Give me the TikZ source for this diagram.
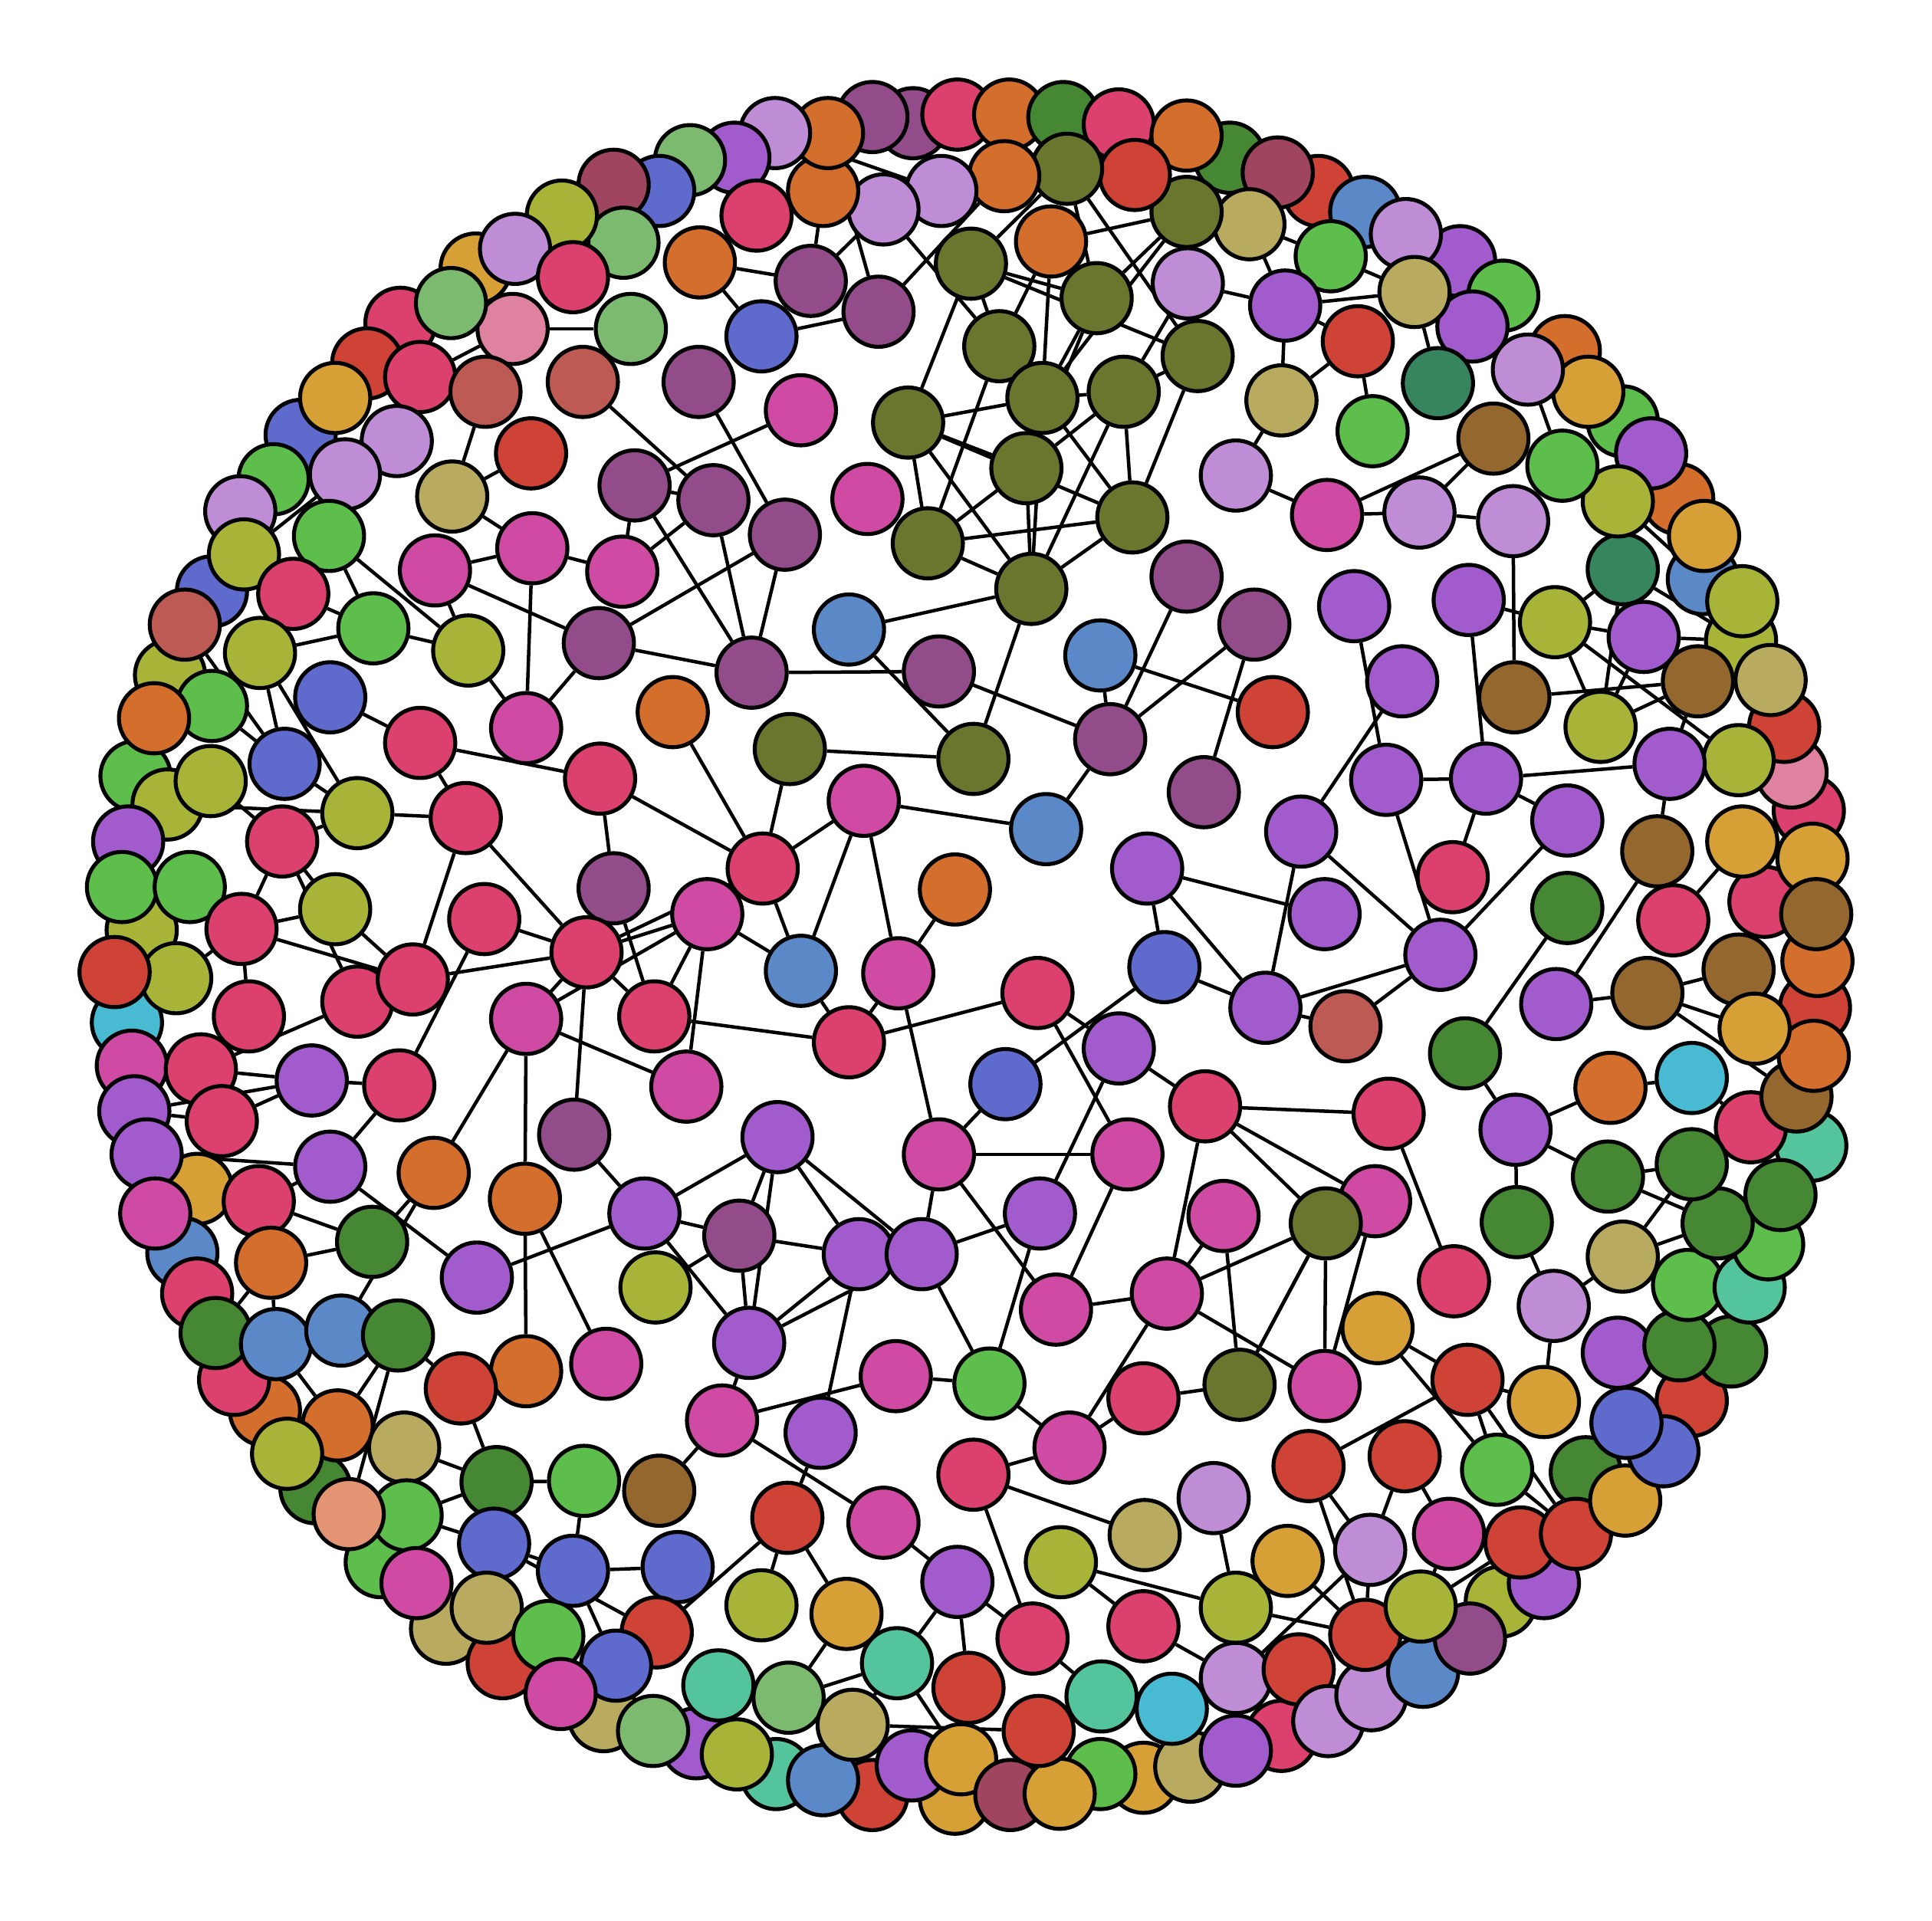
\documentclass[tikz,border=0pt]{standalone}
\usetikzlibrary{backgrounds}
\definecolor{kol}{HTML}{6A752E}
\definecolor{kvi}{HTML}{A25BCC}
\definecolor{kmg}{HTML}{CF4BA3}
\definecolor{kcr}{HTML}{DC416E}
\definecolor{kor}{HTML}{D46E2C}
\definecolor{krd}{HTML}{CE4336}
\definecolor{kgr}{HTML}{5EBE4B}
\definecolor{kdg}{HTML}{458733}
\definecolor{kyo}{HTML}{A7B437}
\definecolor{kkh}{HTML}{B8AA5F}
\definecolor{klp}{HTML}{BF8DD6}
\definecolor{kpl}{HTML}{924C89}
\definecolor{kbl}{HTML}{5E6ACC}
\definecolor{ksb}{HTML}{5B89C7}
\definecolor{kbr}{HTML}{93672D}
\definecolor{kgo}{HTML}{D6A036}
\definecolor{kte}{HTML}{53C49C}
\definecolor{kcy}{HTML}{48BBD3}
\definecolor{ksg}{HTML}{37855E}
\definecolor{klg}{HTML}{7BBA6F}
\definecolor{kpk}{HTML}{DE82A0}
\definecolor{kir}{HTML}{BD5A54}
\definecolor{kdr}{HTML}{A04560}
\definecolor{ksa}{HTML}{E39573}
\newcommand{\NN}[3]{\node[gn,fill=k#1] (p#2y#3) at (#2,#3) {};}
\newcommand{\EE}[4]{\draw[gl] (p#1y#2) -- (p#3y#4);}
\begin{document}
\begin{tikzpicture}[x=1pt,y=-1pt,
  gn/.style={circle,draw=black,line width=3.2pt,minimum size=57pt,inner sep=0pt},
  gl/.style={line width=2.8pt,black}]
\useasboundingbox (0,0) rectangle (1568,1559);
% behind
\NN{pl}{741}{100}\NN{dg}{998}{128}\NN{rd}{1070}{155}\NN{vi}{1185}{212}
\NN{go}{386}{218}\NN{cr}{325}{262}\NN{bl}{244}{353}\NN{bl}{172}{480}
\NN{yo}{138}{548}\NN{gr}{110}{630}\NN{yo}{115}{755}\NN{or}{215}{1145}
\NN{dg}{256}{1208}\NN{gr}{309}{1268}\NN{kh}{362}{1322}\NN{rd}{408}{1350}
\NN{kh}{490}{1393}\NN{vi}{565}{1415}\NN{te}{630}{1440}\NN{go}{775}{1460}
\NN{cr}{1040}{1409}\NN{yo}{1218}{1300}\NN{dg}{1287}{1195}\NN{rd}{1373}{1137}
\NN{dg}{1405}{1097}\NN{te}{1470}{930}\NN{rd}{1473}{818}\NN{or}{1475}{780}
\NN{cr}{1468}{658}\NN{yo}{1413}{520}\NN{sb}{1382}{470}\NN{or}{1362}{405}
\NN{gr}{1317}{342}\NN{or}{1270}{285}
% top
\NN{pl}{708}{95}\NN{cr}{777}{93}\NN{or}{819}{93}\NN{dg}{863}{95}
\NN{cr}{908}{101}\NN{or}{963}{110}\NN{dr}{1037}{140}\NN{sb}{1108}{172}
\NN{lp}{1141}{190}\NN{gr}{1220}{240}\NN{vi}{1195}{265}\NN{kh}{1148}{237}
\NN{rd}{1102}{277}\NN{gr}{1080}{208}\NN{vi}{1043}{248}\NN{kh}{1014}{182}
\NN{ol}{963}{172}\NN{lp}{964}{230}\NN{rd}{921}{142}\NN{ol}{866}{137}
\NN{or}{853}{196}\NN{or}{815}{143}\NN{lp}{764}{155}\NN{lp}{717}{170}
\NN{or}{668}{155}\NN{or}{672}{108}\NN{lp}{629}{108}\NN{vi}{596}{128}
\NN{lg}{560}{130}\NN{bl}{535}{155}\NN{dr}{498}{150}\NN{cr}{614}{175}
\NN{or}{568}{213}\NN{lg}{506}{197}\NN{yo}{456}{175}\NN{lp}{418}{202}
\NN{cr}{465}{225}\NN{pk}{416}{267}\NN{lg}{366}{246}\NN{rd}{298}{295}
\NN{cr}{341}{306}\NN{ir}{394}{318}\NN{go}{272}{323}\NN{lp}{322}{358}
\NN{lp}{280}{385}\NN{gr}{222}{389}\NN{lp}{195}{415}\NN{yo}{198}{450}
\NN{gr}{267}{435}\NN{cr}{238}{482}\NN{ir}{150}{507}\NN{yo}{211}{530}
\NN{gr}{303}{510}\NN{gr}{172}{573}\NN{or}{125}{583}\NN{bl}{231}{620}
\NN{bl}{268}{566}\NN{yo}{136}{653}\NN{yo}{171}{634}\NN{vi}{104}{683}
\NN{cr}{229}{683}\NN{yo}{290}{660}\NN{gr}{99}{720}\NN{gr}{154}{720}
\NN{cr}{196}{754}\NN{yo}{272}{738}\NN{cy}{103}{830}\NN{yo}{143}{794}
\NN{rd}{93}{789}\NN{cr}{202}{825}\NN{cr}{290}{813}\NN{cr}{335}{795}
\NN{mg}{107}{865}\NN{cr}{163}{868}\NN{vi}{109}{902}\NN{cr}{180}{910}
\NN{vi}{253}{877}\NN{cr}{324}{881}\NN{go}{160}{965}\NN{vi}{119}{937}
\NN{sb}{148}{1017}\NN{mg}{126}{985}\NN{cr}{210}{975}\NN{vi}{268}{947}
\NN{or}{352}{952}\NN{or}{220}{1025}\NN{dg}{302}{1008}\NN{cr}{190}{1120}
\NN{cr}{160}{1050}\NN{dg}{175}{1082}\NN{sb}{224}{1091}\NN{sb}{277}{1080}
\NN{dg}{323}{1084}\NN{or}{274}{1157}\NN{yo}{233}{1180}\NN{kh}{328}{1175}
\NN{gr}{330}{1230}\NN{sa}{283}{1229}\NN{mg}{338}{1285}\NN{dg}{403}{1203}
\NN{bl}{401}{1253}\NN{kh}{395}{1305}\NN{gr}{474}{1202}\NN{br}{535}{1210}
\NN{bl}{465}{1275}\NN{bl}{550}{1272}\NN{gr}{445}{1328}\NN{rd}{533}{1325}
\NN{bl}{500}{1352}\NN{mg}{455}{1375}\NN{lg}{530}{1405}\NN{te}{583}{1368}
\NN{lg}{640}{1378}\NN{yo}{598}{1424}\NN{rd}{708}{1457}\NN{sb}{668}{1445}
\NN{kh}{692}{1400}\NN{vi}{740}{1433}\NN{go}{780}{1428}\NN{dr}{820}{1457}
\NN{go}{928}{1443}\NN{gr}{893}{1440}\NN{go}{860}{1456}\NN{kh}{966}{1434}
\NN{vi}{1003}{1421}\NN{rd}{843}{1405}\NN{rd}{786}{1370}\NN{te}{728}{1350}
\NN{go}{687}{1310}\NN{yo}{618}{1303}\NN{rd}{639}{1232}\NN{mg}{717}{1236}
\NN{vi}{777}{1284}\NN{cr}{838}{1330}\NN{te}{894}{1377}\NN{cy}{951}{1387}
\NN{cr}{928}{1320}\NN{yo}{1003}{1305}\NN{lp}{1003}{1362}\NN{rd}{1054}{1355}
\NN{lp}{1078}{1397}\NN{lp}{1113}{1376}\NN{rd}{1108}{1327}\NN{sb}{1155}{1357}
\NN{pl}{1193}{1330}\NN{yo}{1153}{1304}\NN{vi}{1253}{1285}\NN{rd}{1234}{1252}
\NN{rd}{1279}{1245}\NN{go}{1319}{1218}\NN{mg}{1176}{1245}\NN{lp}{1112}{1258}
\NN{go}{1045}{1267}\NN{lp}{985}{1216}\NN{kh}{929}{1246}\NN{yo}{861}{1268}
\NN{cr}{790}{1197}\NN{mg}{868}{1175}\NN{rd}{1062}{1190}\NN{rd}{1140}{1182}
\NN{gr}{1215}{1193}\NN{rd}{1191}{1120}\NN{go}{1253}{1138}\NN{bl}{1350}{1178}
\NN{bl}{1320}{1155}\NN{vi}{1313}{1098}\NN{dg}{1363}{1092}\NN{gr}{1370}{1043}
\NN{te}{1420}{1045}\NN{gr}{1435}{1010}\NN{dg}{1394}{993}\NN{dg}{1445}{970}
\NN{cr}{1421}{915}\NN{br}{1458}{890}\NN{or}{1472}{857}\NN{cr}{1432}{732}
\NN{go}{1471}{697}\NN{br}{1474}{742}\NN{pk}{1454}{627}\NN{rd}{1448}{590}
\NN{kh}{1437}{552}\NN{yo}{1411}{617}\NN{yo}{1414}{488}\NN{br}{1378}{553}
\NN{vi}{1334}{517}\NN{sg}{1317}{462}\NN{go}{1383}{435}\NN{vi}{1340}{368}
\NN{yo}{1313}{407}\NN{go}{1289}{318}\NN{lp}{1240}{300}\NN{gr}{1268}{378}
\NN{sg}{1167}{311}\NN{br}{1212}{356}\NN{gr}{1114}{350}\NN{kh}{1040}{325}
\NN{lp}{1003}{386}\NN{mg}{1077}{418}\NN{lp}{1152}{416}\NN{lp}{1228}{423}
\NN{yo}{1262}{505}\NN{vi}{1192}{487}\NN{vi}{1099}{492}\NN{vi}{1138}{553}
\NN{br}{1229}{566}\NN{yo}{1299}{590}\NN{vi}{1355}{620}\NN{vi}{1206}{632}
\NN{vi}{1125}{633}\NN{vi}{1272}{666}\NN{br}{1345}{691}\NN{go}{1414}{683}
\NN{cr}{1358}{747}\NN{dg}{1272}{737}\NN{cr}{1179}{712}\NN{vi}{1056}{675}
\NN{vi}{1075}{742}\NN{vi}{1169}{775}\NN{vi}{1027}{818}\NN{ir}{1092}{833}
\NN{vi}{1263}{815}\NN{br}{1337}{806}\NN{br}{1411}{787}\NN{go}{1424}{835}
\NN{cy}{1373}{875}\NN{or}{1307}{883}\NN{dg}{1189}{855}\NN{vi}{1230}{917}
\NN{dg}{1305}{955}\NN{dg}{1373}{945}\NN{dg}{1231}{992}\NN{kh}{1317}{1020}
\NN{lp}{1261}{1060}\NN{cr}{1180}{1040}\NN{go}{1118}{1078}\NN{cr}{1127}{904}
\NN{mg}{1116}{975}\NN{ol}{1076}{993}\NN{mg}{993}{987}\NN{cr}{978}{898}
\NN{mg}{915}{937}\NN{vi}{908}{851}\NN{bl}{945}{785}\NN{vi}{931}{705}
\NN{cr}{842}{806}\NN{bl}{816}{880}\NN{sb}{849}{673}\NN{or}{775}{722}
\NN{mg}{729}{790}\NN{mg}{701}{650}\NN{cr}{689}{846}\NN{sb}{650}{788}
\NN{mg}{762}{937}\NN{vi}{844}{985}\NN{mg}{857}{1063}\NN{mg}{947}{1050}
\NN{ol}{1006}{1124}\NN{mg}{1075}{1125}\NN{cr}{928}{1135}\NN{gr}{803}{1123}
\NN{mg}{727}{1117}\NN{vi}{697}{1018}\NN{vi}{748}{1018}\NN{vi}{631}{923}
\NN{pl}{600}{1003}\NN{vi}{608}{1090}\NN{vi}{523}{985}\NN{yo}{532}{1045}
\NN{pl}{466}{921}\NN{mg}{557}{882}\NN{cr}{531}{825}\NN{mg}{574}{742}
\NN{pl}{498}{721}\NN{cr}{476}{773}\NN{mg}{427}{827}\NN{cr}{619}{705}
\NN{or}{546}{578}\NN{ol}{641}{608}\NN{ol}{790}{616}\NN{pl}{762}{545}
\NN{pl}{610}{546}\NN{cr}{487}{632}\NN{pl}{486}{522}\NN{mg}{427}{591}
\NN{cr}{341}{603}\NN{cr}{378}{664}\NN{cr}{393}{746}\NN{yo}{380}{528}
\NN{mg}{353}{463}\NN{mg}{432}{445}\NN{mg}{505}{464}\NN{pl}{515}{394}
\NN{pl}{579}{406}\NN{pl}{637}{434}\NN{pl}{567}{310}\NN{ir}{473}{310}
\NN{rd}{431}{368}\NN{kh}{367}{403}\NN{lg}{512}{267}\NN{bl}{618}{273}
\NN{pl}{658}{228}\NN{pl}{713}{253}\NN{mg}{650}{333}\NN{mg}{704}{405}
\NN{sb}{689}{511}\NN{ol}{737}{343}\NN{ol}{753}{441}\NN{ol}{788}{214}
\NN{ol}{811}{281}\NN{ol}{846}{323}\NN{ol}{833}{380}\NN{ol}{890}{242}
\NN{ol}{912}{318}\NN{ol}{972}{289}\NN{ol}{919}{420}\NN{ol}{837}{478}
\NN{sb}{893}{532}\NN{pl}{963}{468}\NN{pl}{1018}{507}\NN{rd}{1033}{578}
\NN{pl}{901}{600}\NN{pl}{977}{643}\NN{or}{426}{973}\NN{or}{427}{1113}
\NN{mg}{492}{1107}\NN{vi}{387}{1037}\NN{rd}{374}{1127}\NN{mg}{586}{1153}
\NN{vi}{666}{1163}
\begin{pgfonlayer}{background}
% centre
\EE{486}{522}{610}{546}\EE{610}{546}{762}{545}\EE{689}{511}{790}{616}
\EE{762}{545}{901}{600}\EE{790}{616}{837}{478}\EE{641}{608}{790}{616}
\EE{641}{608}{619}{705}\EE{546}{578}{619}{705}\EE{619}{705}{701}{650}
\EE{487}{632}{619}{705}\EE{619}{705}{650}{788}\EE{701}{650}{650}{788}
\EE{701}{650}{729}{790}\EE{701}{650}{849}{673}\EE{849}{673}{901}{600}
\EE{775}{722}{729}{790}\EE{574}{742}{650}{788}\EE{650}{788}{689}{846}
\EE{729}{790}{689}{846}\EE{729}{790}{762}{937}\EE{531}{825}{689}{846}
\EE{531}{825}{574}{742}\EE{557}{882}{574}{742}\EE{689}{846}{842}{806}
\EE{842}{806}{908}{851}\EE{842}{806}{915}{937}\EE{816}{880}{945}{785}
\EE{816}{880}{762}{937}\EE{762}{937}{915}{937}\EE{762}{937}{857}{1063}
\EE{762}{937}{748}{1018}\EE{908}{851}{844}{985}\EE{915}{937}{857}{1063}
\EE{844}{985}{748}{1018}\EE{844}{985}{803}{1123}\EE{978}{898}{908}{851}
\EE{978}{898}{1127}{904}\EE{978}{898}{947}{1050}\EE{978}{898}{1116}{975}
\EE{978}{898}{1076}{993}\EE{931}{705}{1075}{742}\EE{931}{705}{945}{785}
\EE{931}{705}{1027}{818}\EE{945}{785}{1027}{818}\EE{1027}{818}{1056}{675}
\EE{1018}{507}{901}{600}\EE{1018}{507}{977}{643}\EE{893}{532}{901}{600}
\EE{893}{532}{1033}{578}\EE{901}{600}{963}{468}\EE{993}{987}{947}{1050}
\EE{993}{987}{1006}{1124}\EE{947}{1050}{1076}{993}
% olive cluster
\EE{568}{213}{658}{228}\EE{568}{213}{618}{273}\EE{618}{273}{713}{253}
\EE{658}{228}{668}{155}\EE{658}{228}{717}{170}\EE{713}{253}{672}{108}
\EE{713}{253}{815}{143}\EE{717}{170}{811}{281}\EE{788}{214}{890}{242}
\EE{788}{214}{972}{289}\EE{788}{214}{737}{343}\EE{788}{214}{811}{281}
\EE{866}{137}{788}{214}\EE{853}{196}{811}{281}\EE{853}{196}{846}{323}
\EE{963}{172}{853}{196}\EE{866}{137}{972}{289}\EE{866}{137}{890}{242}
\EE{963}{172}{890}{242}\EE{963}{172}{846}{323}\EE{890}{242}{846}{323}
\EE{890}{242}{833}{380}\EE{964}{230}{912}{318}\EE{964}{230}{1043}{248}
\EE{972}{289}{912}{318}\EE{972}{289}{919}{420}\EE{912}{318}{846}{323}
\EE{912}{318}{833}{380}\EE{912}{318}{919}{420}\EE{912}{318}{837}{478}
\EE{846}{323}{737}{343}\EE{846}{323}{919}{420}\EE{846}{323}{837}{478}
\EE{833}{380}{837}{478}\EE{737}{343}{833}{380}\EE{737}{343}{919}{420}
\EE{737}{343}{753}{441}\EE{737}{343}{837}{478}\EE{753}{441}{833}{380}
\EE{753}{441}{919}{420}\EE{753}{441}{837}{478}\EE{753}{441}{811}{281}
\EE{837}{478}{919}{420}\EE{837}{478}{689}{511}\EE{1040}{325}{1043}{248}
\EE{1040}{325}{1003}{386}\EE{1003}{386}{1077}{418}\EE{1014}{182}{1043}{248}
\EE{629}{108}{764}{155}\EE{650}{333}{515}{394}\EE{567}{310}{637}{434}
\EE{515}{394}{610}{546}\EE{579}{406}{610}{546}\EE{637}{434}{610}{546}
\EE{637}{434}{486}{522}\EE{473}{310}{579}{406}\EE{579}{406}{505}{464}
\EE{515}{394}{579}{406}
% upper left
\EE{341}{306}{416}{267}\EE{416}{267}{512}{267}\EE{394}{318}{367}{403}
\EE{367}{403}{431}{368}\EE{367}{403}{432}{445}\EE{353}{463}{432}{445}
\EE{432}{445}{505}{464}\EE{353}{463}{486}{522}\EE{432}{445}{427}{591}
\EE{515}{394}{505}{464}\EE{198}{450}{280}{385}\EE{267}{435}{380}{528}
\EE{267}{435}{303}{510}\EE{238}{482}{303}{510}\EE{353}{463}{380}{528}
\EE{303}{510}{380}{528}
% left
\EE{211}{530}{303}{510}\EE{211}{530}{231}{620}\EE{211}{530}{290}{660}
\EE{172}{573}{231}{620}\EE{150}{507}{231}{620}
\EE{268}{566}{341}{603}\EE{341}{603}{378}{664}\EE{341}{603}{487}{632}
\EE{427}{591}{380}{528}\EE{427}{591}{486}{522}\EE{487}{632}{498}{721}
\EE{231}{620}{290}{660}\EE{136}{653}{290}{660}\EE{171}{634}{229}{683}
\EE{290}{660}{378}{664}
\EE{229}{683}{290}{660}\EE{229}{683}{196}{754}\EE{229}{683}{272}{738}
\EE{229}{683}{290}{813}\EE{196}{754}{272}{738}\EE{196}{754}{335}{795}
\EE{196}{754}{143}{794}\EE{154}{720}{196}{754}\EE{196}{754}{202}{825}
\EE{272}{738}{335}{795}\EE{378}{664}{335}{795}\EE{378}{664}{476}{773}
\EE{393}{746}{476}{773}\EE{335}{795}{476}{773}\EE{393}{746}{324}{881}
\EE{290}{813}{163}{868}\EE{476}{773}{427}{827}\EE{476}{773}{466}{921}
\EE{476}{773}{574}{742}\EE{476}{773}{619}{705}\EE{476}{773}{531}{825}
\EE{427}{827}{574}{742}\EE{427}{827}{557}{882}\EE{427}{827}{352}{952}
\EE{427}{827}{426}{973}\EE{466}{921}{523}{985}\EE{498}{721}{531}{825}
\EE{426}{973}{427}{1113}\EE{426}{973}{492}{1107}\EE{387}{1037}{523}{985}
\EE{163}{868}{253}{877}\EE{180}{910}{253}{877}\EE{253}{877}{324}{881}
\EE{180}{910}{109}{902}\EE{109}{902}{253}{877}\EE{324}{881}{268}{947}
\EE{210}{975}{268}{947}\EE{268}{947}{387}{1037}\EE{352}{952}{302}{1008}
\EE{210}{975}{302}{1008}\EE{220}{1025}{302}{1008}\EE{119}{937}{268}{947}
% bottom left
\EE{175}{1082}{220}{1025}\EE{220}{1025}{224}{1091}\EE{277}{1080}{352}{952}
\EE{323}{1084}{374}{1127}\EE{374}{1127}{427}{1113}\EE{374}{1127}{403}{1203}
\EE{224}{1091}{274}{1157}\EE{323}{1084}{274}{1157}\EE{323}{1084}{283}{1229}
\EE{328}{1175}{403}{1203}\EE{330}{1230}{403}{1203}\EE{330}{1230}{401}{1253}
\EE{403}{1203}{474}{1202}\EE{474}{1202}{465}{1275}\EE{465}{1275}{550}{1272}
\EE{401}{1253}{465}{1275}\EE{401}{1253}{533}{1325}\EE{465}{1275}{500}{1352}
% bottom
\EE{523}{985}{608}{1090}\EE{608}{1090}{600}{1003}\EE{608}{1090}{631}{923}
\EE{608}{1090}{697}{1018}\EE{608}{1090}{748}{1018}\EE{608}{1090}{586}{1153}
\EE{586}{1153}{727}{1117}\EE{666}{1163}{697}{1018}\EE{727}{1117}{803}{1123}
\EE{748}{1018}{803}{1123}\EE{803}{1123}{868}{1175}\EE{857}{1063}{947}{1050}
\EE{928}{1135}{1006}{1124}\EE{1006}{1124}{1076}{993}\EE{947}{1050}{1075}{1125}
\EE{868}{1175}{928}{1135}\EE{868}{1175}{947}{1050}\EE{790}{1197}{868}{1175}
\EE{790}{1197}{929}{1246}\EE{790}{1197}{838}{1330}\EE{586}{1153}{717}{1236}
\EE{666}{1163}{639}{1232}\EE{586}{1153}{535}{1210}\EE{639}{1232}{618}{1303}
\EE{639}{1232}{687}{1310}\EE{639}{1232}{533}{1325}\EE{717}{1236}{777}{1284}
\EE{777}{1284}{786}{1370}\EE{777}{1284}{692}{1400}\EE{777}{1284}{838}{1330}
\EE{861}{1268}{1003}{1305}\EE{861}{1268}{928}{1320}\EE{985}{1216}{1003}{1305}
\EE{928}{1320}{1003}{1362}\EE{838}{1330}{894}{1377}\EE{687}{1310}{640}{1378}
\EE{640}{1378}{728}{1350}\EE{728}{1350}{780}{1428}\EE{692}{1400}{843}{1405}
\EE{631}{923}{523}{985}\EE{631}{923}{600}{1003}\EE{631}{923}{697}{1018}
\EE{631}{923}{748}{1018}\EE{523}{985}{600}{1003}\EE{600}{1003}{697}{1018}
\EE{600}{1003}{532}{1045}
% right lower
\EE{1118}{1078}{1191}{1120}\EE{1118}{1078}{1215}{1193}\EE{1062}{1190}{1191}{1120}
\EE{1191}{1120}{1253}{1138}\EE{1191}{1120}{1215}{1193}\EE{1191}{1120}{1279}{1245}
\EE{1215}{1193}{1279}{1245}
\EE{1261}{1060}{1253}{1138}\EE{1317}{1020}{1261}{1060}\EE{1062}{1190}{1108}{1327}
\EE{1062}{1190}{1112}{1258}\EE{1140}{1182}{1112}{1258}\EE{1140}{1182}{1176}{1245}
\EE{1112}{1258}{1108}{1327}\EE{1112}{1258}{1003}{1362}\EE{1003}{1305}{1108}{1327}
\EE{1045}{1267}{1108}{1327}\EE{1153}{1304}{1176}{1245}\EE{1153}{1304}{1234}{1252}
\EE{1127}{904}{1180}{1040}\EE{1116}{975}{1075}{1125}\EE{1076}{993}{1075}{1125}
\EE{1076}{993}{1006}{1124}\EE{1231}{992}{1261}{1060}\EE{1230}{917}{1231}{992}
\EE{1189}{855}{1230}{917}\EE{1272}{737}{1189}{855}\EE{1230}{917}{1307}{883}
\EE{1307}{883}{1373}{875}\EE{1373}{875}{1421}{915}\EE{1230}{917}{1305}{955}
\EE{1305}{955}{1373}{945}\EE{1305}{955}{1394}{993}\EE{1317}{1020}{1373}{945}
\EE{1317}{1020}{1394}{993}\EE{1345}{691}{1263}{815}\EE{1337}{806}{1263}{815}
\EE{1337}{806}{1411}{787}\EE{1337}{806}{1424}{835}\EE{1337}{806}{1458}{890}
\EE{1358}{747}{1414}{683}\EE{1355}{620}{1206}{632}\EE{1355}{620}{1345}{691}
\EE{1378}{553}{1355}{620}\EE{1229}{566}{1378}{553}\EE{1299}{590}{1262}{505}
\EE{1299}{590}{1317}{462}\EE{1299}{590}{1378}{553}\EE{1262}{505}{1411}{617}
\EE{1299}{590}{1334}{517}\EE{1334}{517}{1413}{520}\EE{1437}{552}{1411}{617}
\EE{1125}{633}{1206}{632}\EE{1125}{633}{1169}{775}\EE{1206}{632}{1179}{712}
\EE{1206}{632}{1272}{666}\EE{1272}{666}{1169}{775}\EE{1056}{675}{1169}{775}
\EE{1138}{553}{1056}{675}\EE{1169}{775}{1092}{833}\EE{1169}{775}{1027}{818}
\EE{1027}{818}{1092}{833}\EE{1099}{492}{1125}{633}\EE{1192}{487}{1206}{632}
\EE{1228}{423}{1229}{566}
% top right
\EE{1102}{277}{1040}{325}\EE{1102}{277}{1114}{350}\EE{1102}{277}{1043}{248}
\EE{1043}{248}{1148}{237}\EE{1080}{208}{1148}{237}\EE{1080}{208}{1014}{182}
\EE{1148}{237}{1167}{311}\EE{1212}{356}{1077}{418}\EE{1212}{356}{1152}{416}
\EE{1077}{418}{1152}{416}\EE{1152}{416}{1228}{423}\EE{1240}{300}{1268}{378}
\EE{1317}{462}{1262}{505}\EE{1313}{407}{1382}{470}\EE{1317}{462}{1413}{520}
\EE{1192}{487}{1262}{505}\EE{1262}{505}{1334}{517}
\end{pgfonlayer}
\end{tikzpicture}
\end{document}
